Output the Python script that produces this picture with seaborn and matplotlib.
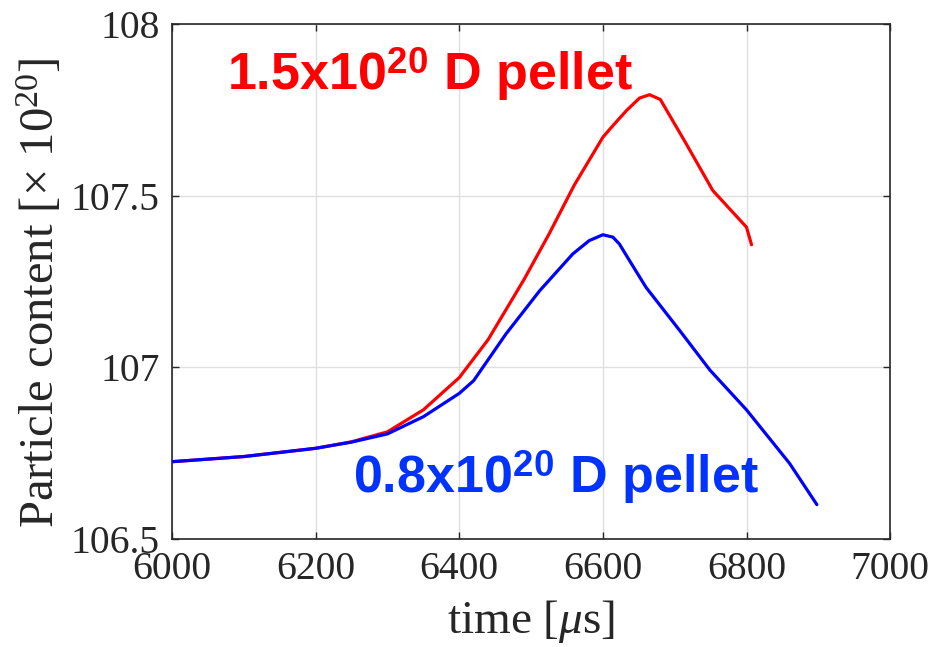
"""
Particle content during pellet injection, two pellet sizes.
"""

import matplotlib
matplotlib.use("Agg")
import matplotlib.pyplot as plt
import seaborn as sns
import pandas as pd

# Values
time_large = [6000, 6100, 6200, 6250, 6300, 6350, 6400, 6440, 6490, 6525,
              6560, 6600, 6614, 6633, 6651, 6665, 6680, 6716, 6753, 6800, 6807]
content_large = [106.725, 106.740, 106.764, 106.783, 106.812, 106.876, 106.970,
                 107.080, 107.255, 107.388, 107.530, 107.670, 107.704, 107.748,
                 107.784, 107.794, 107.780, 107.651, 107.515, 107.408, 107.357]

time_small = [6000, 6100, 6200, 6250, 6300, 6350, 6400, 6420, 6465, 6512,
              6558, 6581, 6600, 6614, 6623, 6637, 6660, 6707, 6749, 6800,
              6860, 6898]
content_small = [106.725, 106.740, 106.764, 106.782, 106.806, 106.856, 106.924,
                 106.961, 107.097, 107.223, 107.330, 107.369, 107.386, 107.379,
                 107.359, 107.311, 107.233, 107.107, 106.992, 106.876, 106.720,
                 106.600]

x_ticks = [6000, 6200, 6400, 6600, 6800, 7000]
y_ticks = [106.5, 107, 107.5, 108]
y_tick_labels = ["106.5", "107", "107.5", "108"]

df_large = pd.DataFrame({"time": time_large, "content": content_large})
df_small = pd.DataFrame({"time": time_small, "content": content_small})

sns.set_theme(style="ticks")
plt.rcParams["font.family"] = ["Liberation Serif", "DejaVu Serif"]
plt.rcParams["mathtext.fontset"] = "custom"
plt.rcParams["mathtext.rm"] = "Liberation Serif"
plt.rcParams["mathtext.it"] = "Liberation Serif:italic"
plt.rcParams["mathtext.bf"] = "Liberation Sans:bold"
plt.rcParams["lines.solid_joinstyle"] = "round"
plt.rcParams["lines.solid_capstyle"] = "round"

fig = plt.figure(figsize=(9.35, 6.47), dpi=100)
ax = fig.add_axes([0.184, 0.167, 0.768, 0.796])

sns.lineplot(data=df_large, x="time", y="content", color="#ff0000",
             linewidth=2.3, ax=ax, sort=False)
sns.lineplot(data=df_small, x="time", y="content", color="#0000ff",
             linewidth=2.3, ax=ax, sort=False)

ax.set_xlim(6000, 7000)
ax.set_ylim(106.5, 108)
ax.set_xticks(x_ticks)
ax.set_yticks(y_ticks)
ax.set_yticklabels(y_tick_labels)
ax.grid(True, color="#e0e0e0", linewidth=1.0)
ax.set_axisbelow(True)

for spine in ax.spines.values():
    spine.set_color("#262626")
    spine.set_linewidth(1.2)

ax.tick_params(direction="in", top=True, right=True, length=5, width=1.0,
               color="#262626", labelsize=28.5, labelcolor="#262626")
ax.tick_params(axis="x", pad=9)
ax.tick_params(axis="y", pad=9)

ax.set_xlabel(r"time [$\mu$s]", fontsize=34, color="#262626", labelpad=7)
ax.set_ylabel(r"Particle content [$\times$ 10$^{20}$]", fontsize=35,
              color="#262626")
ax.yaxis.set_label_coords(-0.15, 0.478)

# Pellet annotations
ax.text(6077, 107.808, r"1.5x10$^{\mathbf{20}}$ D pellet", color="#ff0000",
        fontsize=37.5, fontweight="bold", family=["Liberation Sans", "DejaVu Sans"],
        va="baseline", ha="left")
ax.text(6252, 106.633, r"0.8x10$^{\mathbf{20}}$ D pellet", color="#0033ff",
        fontsize=37.5, fontweight="bold", family=["Liberation Sans", "DejaVu Sans"],
        va="baseline", ha="left")

fig.savefig("out.png", dpi=100)
